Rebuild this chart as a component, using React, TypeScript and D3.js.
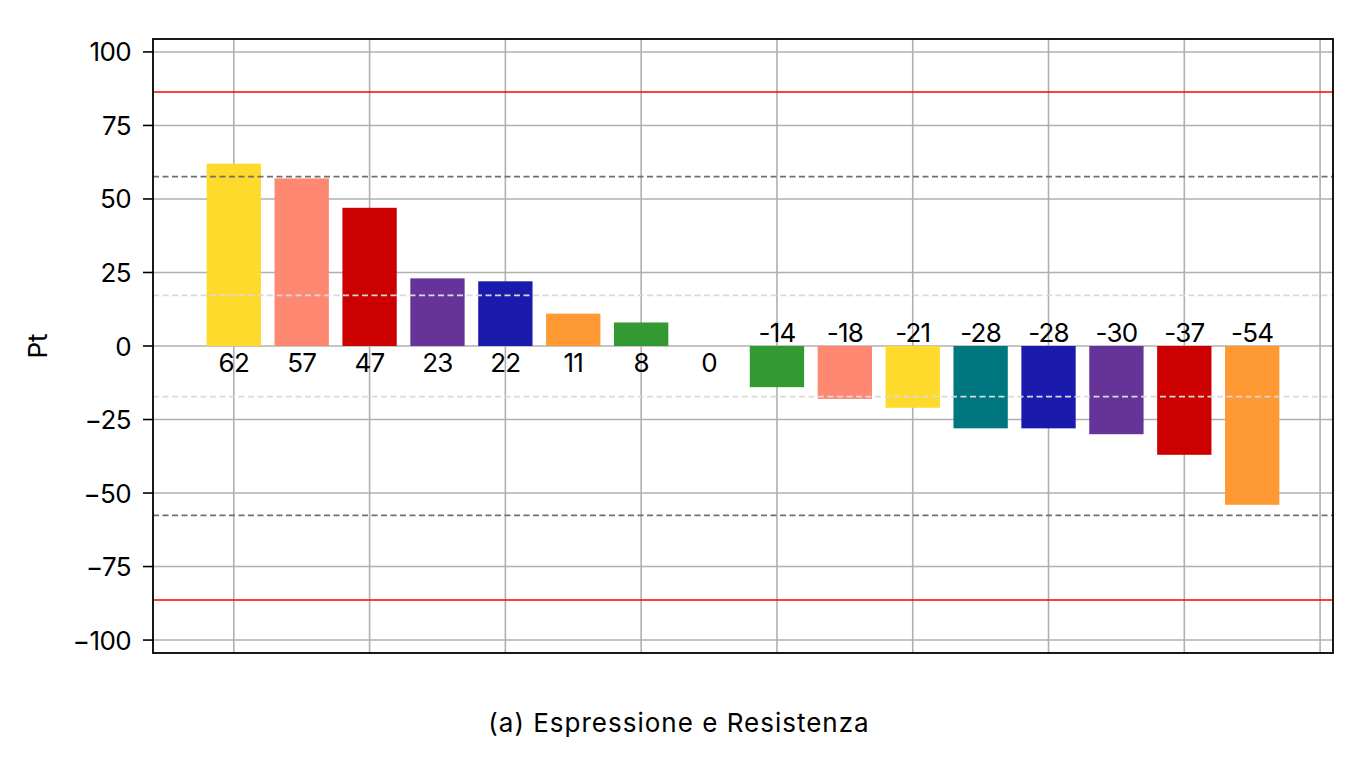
import React from "react";
import * as d3 from "d3";

const values = [62, 57, 47, 23, 22, 11, 8, 0, -14, -18, -21, -28, -28, -30, -37, -54];
const colors = [
  "#FEDA2C", "#FF8872", "#CC0000", "#663399", "#1A1AAD", "#FF9933", "#339933", "#339933",
  "#339933", "#FF8872", "#FEDA2C", "#007780", "#1A1AAD", "#663399", "#CC0000", "#FF9933",
];
const yTicks = [100, 75, 50, 25, 0, -25, -50, -75, -100];
const xGridTicks = [0, 2, 4, 6, 8, 10, 12, 14, 16];
const redLevels = [86.4, -86.4];
const darkDashLevels = [57.6, -57.6];
const lightDashLevels = [17.2, -17.2];
const yLabel = "Pt";
const caption = "(a) Espressione e Resistenza";

const W = 1366, H = 760;
const L = 153, R = 1333, T = 39, B = 653;
const FONT = "Inter, 'Noto Sans', sans-serif";
const FS = 26;

export default function App() {
  const x = d3.scaleLinear().domain([-1.19, 16.19]).range([L, R]);
  const y = d3.scaleLinear().domain([-104.4, 104.4]).range([B, T]);
  const bw = (x(1) - x(0)) * 0.8;
  return (
    <svg width={W} height={H} style={{ position: "absolute", left: 0, top: 0, background: "#fff" }}>
      <rect x={0} y={0} width={W} height={H} fill="#fff" />
      {/* grid */}
      {yTicks.map((t) => (
        <line key={"gy" + t} x1={L} x2={R} y1={y(t)} y2={y(t)} stroke="#b0b0b0" strokeWidth={1.6} />
      ))}
      {xGridTicks.map((t) => (
        <line key={"gx" + t} x1={x(t)} x2={x(t)} y1={T} y2={B} stroke="#b0b0b0" strokeWidth={1.6} />
      ))}
      {/* bars */}
      {values.map((v, i) => (
        <rect
          key={"b" + i}
          x={x(i) - bw / 2}
          width={bw}
          y={y(Math.max(v, 0))}
          height={Math.abs(y(v) - y(0))}
          fill={colors[i]}
        />
      ))}
      {/* reference lines */}
      {lightDashLevels.map((l) => (
        <line key={"ld" + l} x1={L} x2={R} y1={y(l)} y2={y(l)} stroke="#d9d9d9" strokeWidth={1.6} strokeDasharray="6,3.5" />
      ))}
      {darkDashLevels.map((l) => (
        <line key={"dd" + l} x1={L} x2={R} y1={y(l)} y2={y(l)} stroke="#707070" strokeWidth={1.6} strokeDasharray="6,3.5" />
      ))}
      {redLevels.map((l) => (
        <line key={"r" + l} x1={L} x2={R} y1={y(l)} y2={y(l)} stroke="#ff0000" strokeWidth={1.6} />
      ))}
      {/* value labels */}
      {values.map((v, i) => (
        <text
          key={"t" + i}
          x={x(i)}
          y={v >= 0 ? y(0) + 26 : y(0) - 4.5}
          textAnchor="middle"
          fontFamily={FONT}
          fontSize={FS}
          letterSpacing={-0.8}
          fill="#000"
        >
          {v}
        </text>
      ))}
      {/* y ticks */}
      {yTicks.map((t) => (
        <g key={"yt" + t}>
          <line x1={L - 10} x2={L} y1={y(t)} y2={y(t)} stroke="#000" strokeWidth={1.6} />
          <text x={L - 22} y={y(t) + 9.5} textAnchor="end" fontFamily={FONT} fontSize={FS} letterSpacing={-0.6} fill="#000">
            {t < 0 ? "\u2212" + Math.abs(t) : String(t)}
          </text>
        </g>
      ))}
      {/* frame */}
      <rect x={L} y={T} width={R - L} height={B - T} fill="none" stroke="#000" strokeWidth={1.8} />
      <text
        transform={`translate(47,${y(0)}) rotate(-90)`}
        textAnchor="middle"
        fontFamily={FONT}
        fontSize={FS}
        fill="#000"
      >
        {yLabel}
      </text>
      <text x={679} y={732} textAnchor="middle" fontFamily={FONT} fontSize={FS} letterSpacing={1.0} fill="#000">
        {caption}
      </text>
    </svg>
  );
}
